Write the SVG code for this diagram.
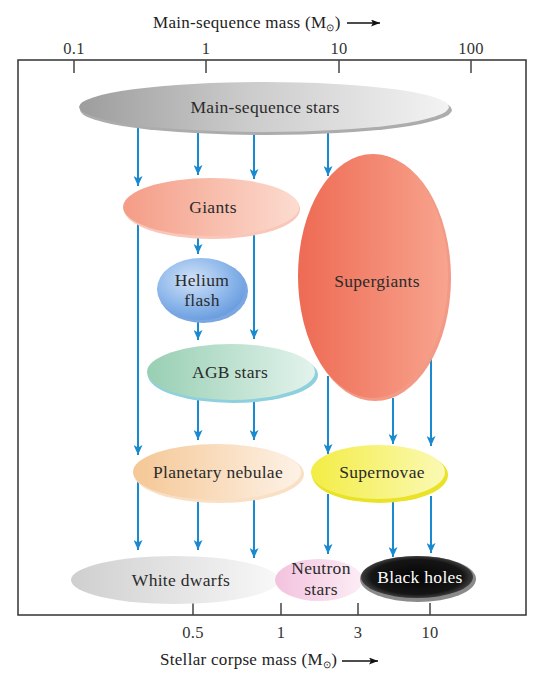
<svg xmlns="http://www.w3.org/2000/svg" width="545" height="673" viewBox="0 0 545 673">
<style>
.lbl{font-family:"Liberation Serif","Times New Roman",serif;font-size:17.5px;letter-spacing:0.3px;fill:#2b2b2b;text-anchor:middle}
.ax{font-family:"Liberation Serif","Times New Roman",serif;font-size:16.5px;letter-spacing:0.3px;fill:#333;text-anchor:middle}
.ttl{font-family:"Liberation Serif","Times New Roman",serif;font-size:17px;letter-spacing:0.3px;fill:#222}
.tick{stroke:#444;stroke-width:1.5}
.con{stroke:#1a8ad0;stroke-width:2;fill:none;marker-end:url(#ah)}
</style>
<defs>
<marker id="ah" markerUnits="userSpaceOnUse" markerWidth="11" markerHeight="9" refX="10" refY="4.5" orient="auto">
<path d="M0,0 L10,4.5 L0,9 L2.5,4.5 z" fill="#1a8ad0"/>
</marker>
<marker id="ahk" markerUnits="userSpaceOnUse" markerWidth="10" markerHeight="7" refX="9" refY="3.5" orient="auto">
<path d="M0,0 L9,3.5 L0,7 L2,3.5 z" fill="#111"/>
</marker>
<linearGradient id="gMS" x1="0" y1="0" x2="1" y2="0"><stop offset="0" stop-color="#9d9d9d"/><stop offset="0.45" stop-color="#cbcbcb"/><stop offset="1" stop-color="#f3f3f3"/></linearGradient>
<linearGradient id="gGi" x1="0" y1="0" x2="1" y2="0"><stop offset="0" stop-color="#f49c86"/><stop offset="1" stop-color="#fcdcd0"/></linearGradient>
<radialGradient id="gHe" cx="0.4" cy="0.35" r="0.65"><stop offset="0" stop-color="#d2e2f7"/><stop offset="0.6" stop-color="#93bbec"/><stop offset="1" stop-color="#6d9fe0"/></radialGradient>
<linearGradient id="gAG" x1="0" y1="0" x2="1" y2="0"><stop offset="0" stop-color="#98cfb3"/><stop offset="1" stop-color="#e3f3ec"/></linearGradient>
<linearGradient id="gSG" x1="0" y1="0" x2="1" y2="0"><stop offset="0" stop-color="#ee6a53"/><stop offset="1" stop-color="#f8a48e"/></linearGradient>
<linearGradient id="gPN" x1="0" y1="0" x2="1" y2="0"><stop offset="0" stop-color="#f5c795"/><stop offset="1" stop-color="#fdf2e6"/></linearGradient>
<linearGradient id="gSN" x1="0" y1="0" x2="1" y2="0"><stop offset="0" stop-color="#f3ed45"/><stop offset="1" stop-color="#fbf9b4"/></linearGradient>
<linearGradient id="gWD" x1="0" y1="0" x2="1" y2="0"><stop offset="0" stop-color="#cfcfcf"/><stop offset="1" stop-color="#f8f8f8"/></linearGradient>
<linearGradient id="gNS" x1="0" y1="0" x2="1" y2="0"><stop offset="0" stop-color="#f3c2de"/><stop offset="1" stop-color="#fcedf5"/></linearGradient>
<radialGradient id="gBH" cx="0.5" cy="0.5" r="0.55"><stop offset="0" stop-color="#050505"/><stop offset="0.75" stop-color="#151515"/><stop offset="1" stop-color="#555"/></radialGradient>
</defs>
<rect width="545" height="673" fill="#fff"/>
<g id="axes">
<rect x="18" y="60" width="508" height="555" fill="none" stroke="#333" stroke-width="1.5"/>
<line class="tick" x1="74" y1="60" x2="74" y2="73"/>
<line class="tick" x1="206" y1="60" x2="206" y2="73"/>
<line class="tick" x1="339" y1="60" x2="339" y2="73"/>
<line class="tick" x1="471" y1="60" x2="471" y2="73"/>
<text class="ax" x="74" y="54">0.1</text>
<text class="ax" x="206" y="54">1</text>
<text class="ax" x="339" y="54">10</text>
<text class="ax" x="471" y="54">100</text>
<line class="tick" x1="193" y1="603" x2="193" y2="615"/>
<line class="tick" x1="281" y1="603" x2="281" y2="615"/>
<line class="tick" x1="358" y1="603" x2="358" y2="615"/>
<line class="tick" x1="430" y1="603" x2="430" y2="615"/>
<text class="ax" x="193" y="638">0.5</text>
<text class="ax" x="281" y="638">1</text>
<text class="ax" x="358" y="638">3</text>
<text class="ax" x="430" y="638">10</text>
<text class="ttl" x="153" y="28">Main-sequence mass (M<tspan font-size="10" dy="3">⊙</tspan><tspan dy="-3">)</tspan></text>
<line x1="347" y1="23" x2="380" y2="23" stroke="#111" stroke-width="1.3" marker-end="url(#ahk)"/>
<text class="ttl" x="160" y="665">Stellar corpse mass (M<tspan font-size="10" dy="3">⊙</tspan><tspan dy="-3">)</tspan></text>
<line x1="342" y1="661" x2="378" y2="661" stroke="#111" stroke-width="1.3" marker-end="url(#ahk)"/>
</g>
<g id="connectors">
<line class="con" x1="138" y1="127" x2="138" y2="186"/>
<line class="con" x1="198" y1="131" x2="198" y2="175"/>
<line class="con" x1="254" y1="133" x2="254" y2="179"/>
<line class="con" x1="328" y1="131" x2="328" y2="176"/>
<line class="con" x1="138" y1="224" x2="138" y2="455"/>
<line class="con" x1="198" y1="237" x2="198" y2="254"/>
<line class="con" x1="254" y1="234" x2="254" y2="339"/>
<line class="con" x1="198" y1="322" x2="198" y2="340"/>
<line class="con" x1="198" y1="400" x2="198" y2="440"/>
<line class="con" x1="254" y1="398" x2="254" y2="440"/>
<line class="con" x1="328" y1="376" x2="328" y2="454"/>
<line class="con" x1="393" y1="398" x2="393" y2="444"/>
<line class="con" x1="431" y1="357" x2="431" y2="446"/>
<line class="con" x1="138" y1="480" x2="138" y2="550"/>
<line class="con" x1="198" y1="501" x2="198" y2="550"/>
<line class="con" x1="254" y1="500" x2="254" y2="558"/>
<line class="con" x1="328" y1="494" x2="328" y2="554"/>
<line class="con" x1="393" y1="501" x2="393" y2="557"/>
<line class="con" x1="431" y1="496" x2="431" y2="553"/>
</g>
<g id="main-sequence">
<ellipse cx="266" cy="110" rx="186" ry="25" fill="#acacac"/>
<ellipse cx="264" cy="107" rx="185" ry="25" fill="url(#gMS)"/>
<text class="lbl" x="265" y="113">Main-sequence stars</text>
</g>
<g id="giants">
<ellipse cx="212" cy="209" rx="88" ry="30" fill="#f9c6b8"/>
<ellipse cx="211" cy="207" rx="88" ry="29" fill="url(#gGi)"/>
<text class="lbl" x="213" y="213">Giants</text>
</g>
<g id="helium-flash">
<ellipse cx="203" cy="291" rx="45" ry="32" fill="#7aa6e2"/>
<ellipse cx="201" cy="289" rx="44" ry="31" fill="url(#gHe)"/>
<text class="lbl" x="202" y="286">Helium</text>
<text class="lbl" x="202" y="306">flash</text>
</g>
<g id="agb-stars">
<ellipse cx="233" cy="375" rx="85" ry="28" fill="#8fd0de"/>
<ellipse cx="231" cy="372" rx="84" ry="28" fill="url(#gAG)"/>
<text class="lbl" x="230" y="378">AGB stars</text>
</g>
<g id="supergiants">
<ellipse cx="375" cy="278" rx="76" ry="123" fill="#f39a86"/>
<ellipse cx="373" cy="276" rx="75" ry="122" fill="url(#gSG)"/>
<text class="lbl" x="377" y="287">Supergiants</text>
</g>
<g id="planetary-nebulae">
<ellipse cx="219" cy="474" rx="85" ry="29" fill="#f9dfc3"/>
<ellipse cx="217" cy="472" rx="84" ry="28" fill="url(#gPN)"/>
<text class="lbl" x="218" y="478">Planetary nebulae</text>
</g>
<g id="supernovae">
<ellipse cx="380" cy="475" rx="68" ry="28" fill="#e9e226"/>
<ellipse cx="378" cy="472" rx="67" ry="27" fill="url(#gSN)"/>
<text class="lbl" x="382" y="478">Supernovae</text>
</g>
<g id="white-dwarfs">
<ellipse cx="175" cy="580" rx="104" ry="24" fill="url(#gWD)"/>
<text class="lbl" x="181" y="586">White dwarfs</text>
</g>
<g id="neutron-stars">
<ellipse cx="319" cy="580" rx="44" ry="21" fill="url(#gNS)"/>
<text class="lbl" x="321" y="574">Neutron</text>
<text class="lbl" x="321" y="595">stars</text>
</g>
<g id="black-holes">
<ellipse cx="418" cy="579" rx="58" ry="23" fill="#8a8a8a"/>
<ellipse cx="417" cy="577" rx="56" ry="21" fill="url(#gBH)"/>
<text class="lbl" x="420" y="583" style="fill:#fff">Black holes</text>
</g>
</svg>
